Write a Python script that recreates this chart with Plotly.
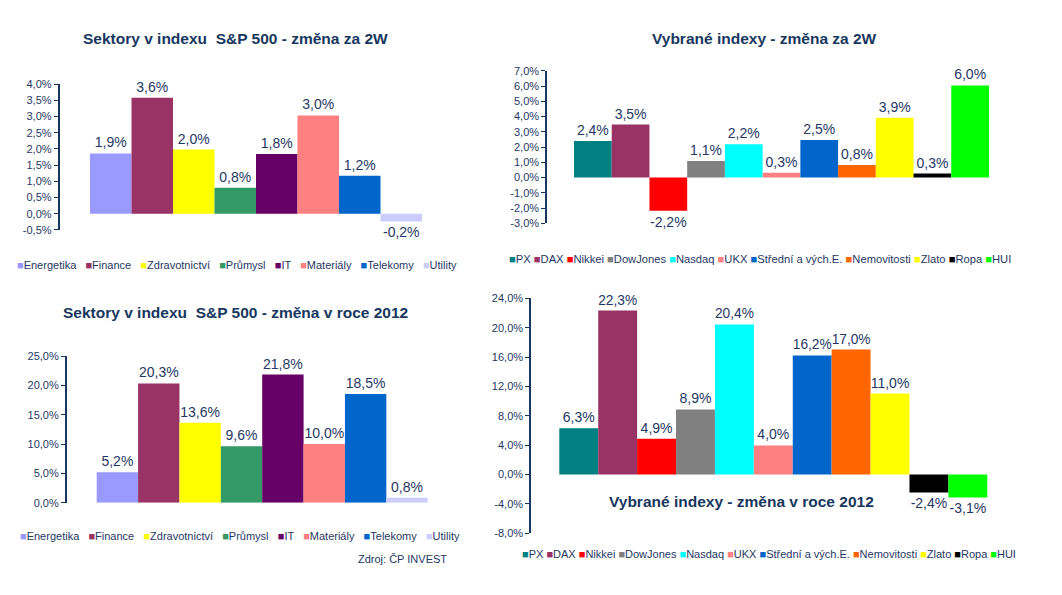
import plotly.graph_objects as go

# ---------------- data ----------------
sectors = ["Energetika", "Finance", "Zdravotnictví", "Průmysl", "IT", "Materiály", "Telekomy", "Utility"]
sector_colors = ["#9999FF", "#993366", "#FFFF00", "#339966", "#660066", "#FF8080", "#0066CC", "#CCCCFF"]
sectors_2w = [1.86, 3.58, 1.98, 0.80, 1.84, 3.03, 1.17, -0.24]
sectors_2012 = [5.18, 20.34, 13.64, 9.64, 21.84, 10.02, 18.52, 0.82]

indices = ["PX", "DAX", "Nikkei", "DowJones", "Nasdaq", "UKX", "Střední a vých.E.", "Nemovitosti", "Zlato", "Ropa", "HUI"]
index_colors = ["#008080", "#993366", "#FF0000", "#808080", "#00FFFF", "#FF8080", "#0066CC", "#FF6600", "#FFFF00", "#000000", "#00FF00"]
indices_2w = [2.40, 3.47, -2.18, 1.09, 2.18, 0.32, 2.46, 0.83, 3.92, 0.26, 6.04]
indices_2012 = [6.30, 22.34, 4.88, 8.86, 20.44, 3.96, 16.22, 17.02, 11.02, -2.44, -3.12]

ticks_tl = [4.0, 3.5, 3.0, 2.5, 2.0, 1.5, 1.0, 0.5, 0.0, -0.5]
ticks_tr = [7.0, 6.0, 5.0, 4.0, 3.0, 2.0, 1.0, 0.0, -1.0, -2.0, -3.0]
ticks_bl = [25.0, 20.0, 15.0, 10.0, 5.0, 0.0]
ticks_br = [24.0, 20.0, 16.0, 12.0, 8.0, 4.0, 0.0, -4.0, -8.0]

titles = [
    "Sektory v indexu  S&P 500 - změna za 2W",
    "Vybrané indexy - změna za 2W",
    "Sektory v indexu  S&P 500 - změna v roce 2012",
    "Vybrané indexy - změna v roce 2012",
]
source = "Zdroj: ČP INVEST"

# ---------------- style ----------------
OFF = 8                      # page body margin
W, H = 1062 - 2 * OFF, 595 - 2 * OFF
FONT = "Liberation Sans, Arial, sans-serif"
NAVY = "#17375E"
TXT = "#1F3864"


def fmt(v):
    return f"{v:.1f}%".replace(".", ",")


def px_x(p):
    return (p - OFF) / W


def px_y(p):
    return 1 - (p - OFF) / H


fig = go.Figure()

# panel layout: (names, colors, values, ticks, axis px, bars left px, bars right px, y top px, y bottom px)
panels = [
    (sectors, sector_colors, sectors_2w, ticks_tl, 59.5, 90, 422, 79.5, 228.5),
    (indices, index_colors, indices_2w, ticks_tr, 547, 574, 989, 66, 221.7),
    (sectors, sector_colors, sectors_2012, ticks_bl, 66.7, 96.7, 427.7, 357.3, 507),
    (indices, index_colors, indices_2012, ticks_br, 531, 559.3, 987.3, 298.3, 538.3),
]

for k, (names, colors, vals, ticks, axl, bl, br, yt, yb) in enumerate(panels):
    n = len(names)
    unit = (br - bl) / n
    gap = (bl - axl) / unit
    xa = "x" if k == 0 else f"x{k+1}"
    ya = "y" if k == 0 else f"y{k+1}"
    for i, (nm, c, v) in enumerate(zip(names, colors, vals)):
        fig.add_trace(go.Bar(
            x=[i], y=[v], width=[1.0], name=nm,
            marker=dict(color=c, line=dict(width=0)),
            text=[fmt(v)], textposition="outside", cliponaxis=False,
            textfont=dict(family=FONT, size=14, color=TXT),
            xaxis=xa, yaxis=ya, showlegend=False,
        ))
    right_px = br + (bl - axl)
    xkey = "xaxis" if k == 0 else f"xaxis{k+1}"
    ykey = "yaxis" if k == 0 else f"yaxis{k+1}"
    fig.update_layout({
        xkey: dict(domain=[px_x(axl), px_x(right_px)], range=[-0.5 - gap, n - 0.5 + gap],
                   visible=False, anchor=ya, fixedrange=True),
        ykey: dict(domain=[px_y(yb), px_y(yt)], range=[min(ticks), max(ticks)],
                   tickvals=ticks, ticktext=[fmt(t) for t in ticks],
                   showgrid=False, zeroline=False, showline=True, linecolor=NAVY, linewidth=1.5,
                   ticks="outside", ticklen=4, tickcolor=NAVY, tickwidth=1,
                   tickfont=dict(family=FONT, size=11, color=TXT), anchor=xa, fixedrange=True),
    })

# titles
title_pos = [(235, 33), (764, 33), (235, 313), (741, 506)]
for t, (x, y) in zip(titles, title_pos):
    fig.add_annotation(text=f"<b>{t}</b>", x=px_x(x), y=px_y(y), xref="paper", yref="paper",
                       showarrow=False, xanchor="center", yanchor="middle",
                       font=dict(family=FONT, size=15.5, color=NAVY))


# legends (one row of coloured squares + names each)
def legend_text(names, colors, sep):
    return sep.join(f"<span style='color:{c}'>■</span>{nm}" for nm, c in zip(names, colors))


legend_pos = [(237, 264, sectors, sector_colors, "   ", 11), (760, 258, indices, index_colors, " ", 11.2),
              (240, 541, sectors, sector_colors, "   ", 11), (769, 559, indices, index_colors, " ", 11)]
for x, y, names, colors, sep, fs in legend_pos:
    fig.add_annotation(text=legend_text(names, colors, sep), x=px_x(x), y=px_y(y),
                       xref="paper", yref="paper",
                       showarrow=False, xanchor="center", yanchor="middle",
                       font=dict(family=FONT, size=fs, color=TXT))

fig.add_annotation(text=source, x=px_x(449), y=px_y(565), xref="paper", yref="paper",
                   showarrow=False, xanchor="right", yanchor="middle",
                   font=dict(family=FONT, size=11, color=TXT))

fig.update_layout(
    width=W, height=H, margin=dict(l=0, r=0, t=0, b=0),
    paper_bgcolor="white", plot_bgcolor="white",
    barmode="overlay", showlegend=False,
)

fig.write_html("out.html")
